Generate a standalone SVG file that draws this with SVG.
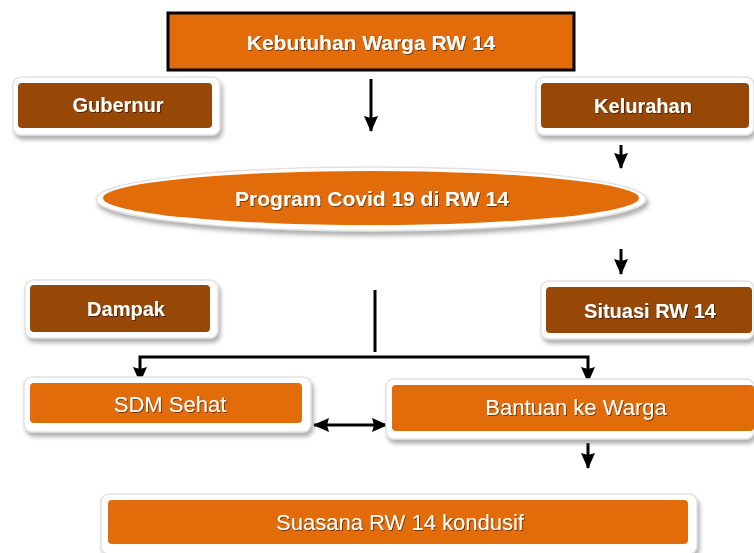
<svg xmlns="http://www.w3.org/2000/svg" width="754" height="553" viewBox="0 0 754 553">
<style>
.frame{fill:#ffffff;stroke:#e2e2e2;stroke-width:1.5;filter:url(#sh)}
.brown{fill:#984806}
.orange{fill:#E36C0A}
.t{font-family:"Liberation Sans",Arial,sans-serif;fill:#ffffff;text-anchor:middle;dominant-baseline:central;filter:url(#ts)}
.b{font-weight:bold}
.ln{stroke:#000;stroke-width:3;fill:none}
</style>
<defs>
<filter id="sh" x="-10%" y="-30%" width="120%" height="170%">
<feDropShadow dx="2" dy="4" stdDeviation="2" flood-color="#7a7a7a" flood-opacity="0.6"/>
</filter>
<filter id="ts" x="-5%" y="-20%" width="110%" height="140%">
<feDropShadow dx="1" dy="1" stdDeviation="0.6" flood-color="#000" flood-opacity="0.5"/>
</filter>
<marker id="ah" viewBox="0 0 16 16" refX="15" refY="8" markerWidth="16" markerHeight="16" orient="auto-start-reverse" markerUnits="userSpaceOnUse">
<path d="M0,1 L16,8 L0,15 L2,8 z" fill="#000"/>
</marker>
</defs>

<g id="connectors">
<line class="ln" x1="371" y1="79" x2="371" y2="131" marker-end="url(#ah)"/>
<line class="ln" x1="621" y1="145" x2="621" y2="168" marker-end="url(#ah)"/>
<line class="ln" x1="621" y1="249" x2="621" y2="274" marker-end="url(#ah)"/>
<line class="ln" x1="375" y1="290" x2="375" y2="352"/>
<polyline class="ln" points="140,382 140,357 588,357 588,382" marker-start="url(#ah)" marker-end="url(#ah)"/>
<line class="ln" x1="314" y1="425" x2="387" y2="425" marker-start="url(#ah)" marker-end="url(#ah)"/>
<line class="ln" x1="588" y1="443" x2="588" y2="468" marker-end="url(#ah)"/>
</g>

<g id="kebutuhan">
<rect x="168" y="13" width="406" height="57" class="orange" stroke="#000" stroke-width="3"/>
<text class="t b" x="371" y="42" font-size="21">Kebutuhan Warga RW 14</text>
</g>

<g id="gubernur">
<rect class="frame" x="13" y="77" width="207" height="58" rx="8"/>
<rect class="brown" x="18" y="83" width="194" height="45" rx="4"/>
<text class="t b" x="118" y="105" font-size="20">Gubernur</text>
</g>

<g id="kelurahan">
<rect class="frame" x="536" y="77" width="218" height="58" rx="8"/>
<rect class="brown" x="541" y="83" width="208" height="45" rx="4"/>
<text class="t b" x="643" y="106" font-size="20">Kelurahan</text>
</g>

<g id="program">
<ellipse cx="371" cy="199" rx="275" ry="32" fill="#ffffff" stroke="#e2e2e2" stroke-width="1.5" filter="url(#sh)"/>
<ellipse cx="371" cy="198" rx="268" ry="27" class="orange"/>
<text class="t b" x="372" y="198" font-size="21">Program Covid 19 di RW 14</text>
</g>

<g id="dampak">
<rect class="frame" x="25" y="280" width="193" height="58" rx="8"/>
<rect class="brown" x="30" y="285" width="180" height="47" rx="4"/>
<text class="t b" x="126" y="309" font-size="20">Dampak</text>
</g>

<g id="situasi">
<rect class="frame" x="541" y="281" width="213" height="58" rx="8"/>
<rect class="brown" x="546" y="287" width="206" height="46" rx="4"/>
<text class="t b" x="650" y="311" font-size="20">Situasi RW 14</text>
</g>

<g id="sdm">
<rect class="frame" x="24" y="377" width="287" height="55" rx="8"/>
<rect class="orange" x="30" y="383" width="272" height="40" rx="4"/>
<text class="t" x="170" y="404" font-size="22">SDM Sehat</text>
</g>

<g id="bantuan">
<rect class="frame" x="386" y="379" width="368" height="60" rx="8"/>
<rect class="orange" x="392" y="385" width="362" height="46" rx="4"/>
<text class="t" x="576" y="407" font-size="22">Bantuan ke Warga</text>
</g>

<g id="suasana">
<rect class="frame" x="101" y="494" width="596" height="60" rx="8"/>
<rect class="orange" x="108" y="500" width="580" height="44" rx="4"/>
<text class="t" x="400" y="522" font-size="22">Suasana RW 14 kondusif</text>
</g>
</svg>
